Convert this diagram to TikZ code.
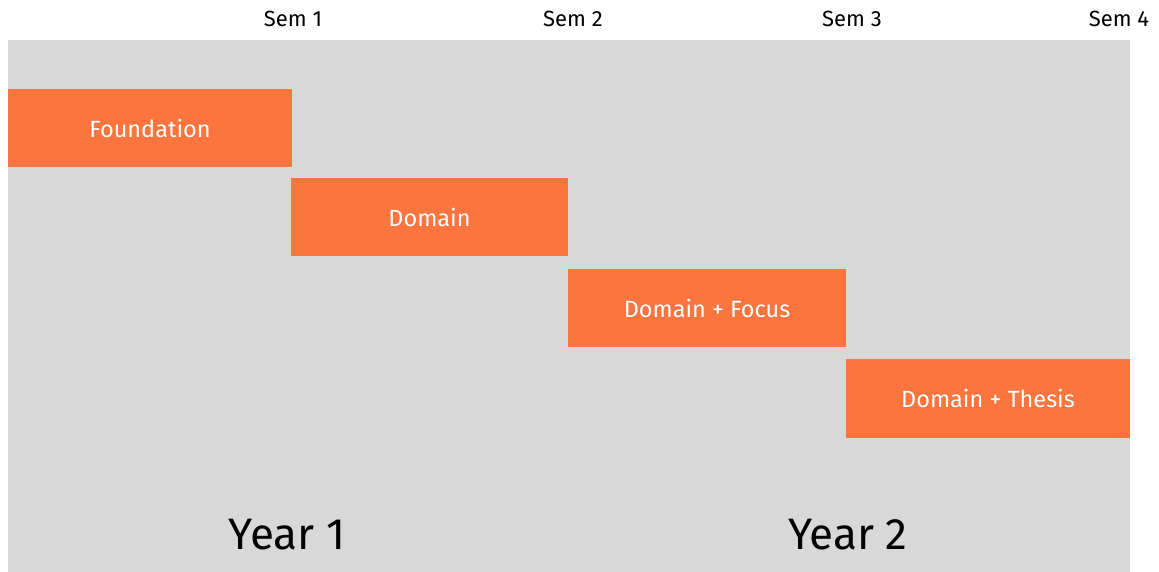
\documentclass[tikz,border=0pt]{standalone}
\usepackage{fontspec}
\setmainfont{Fira Sans}
\definecolor{bg}{RGB}{216,216,216}
\definecolor{orng}{RGB}{252,116,62}
\begin{document}
\begin{tikzpicture}[x=1pt,y=1pt,
  phase/.style={fill=orng,draw=none,inner sep=0pt,text=white,font=\fontsize{23.5}{26}\selectfont},
  sem/.style={font=\fontsize{22}{24}\selectfont,text=black,inner sep=0pt},
  year/.style={font=\fontsize{44}{48}\selectfont,text=black,inner sep=0pt}]
\useasboundingbox (0,0) rectangle (1159,572);
\fill[bg] (8,0) rectangle (1130,532);
% boxes: y_tikz = 572 - y
\node[phase,minimum width=284,minimum height=78] (f) at (150,444) {Foundation};
\node[phase,minimum width=277,minimum height=78] (d) at (429.5,355) {Domain};
\node[phase,minimum width=278,minimum height=78] (df) at (707,264) {Domain + Focus};
\node[phase,minimum width=284,minimum height=79] (dt) at (988,173.5) {Domain + Thesis};
\node[sem] (s1) at (293,553) {Sem 1};
\node[sem] (s2) at (573,553) {Sem 2};
\node[sem] (s3) at (852,553) {Sem 3};
\node[sem] (s4) at (1119,553) {Sem 4};
\node[year] (y1) at (287,37) {Year 1};
\node[year] (y2) at (848,37) {Year 2};
\end{tikzpicture}
\end{document}
